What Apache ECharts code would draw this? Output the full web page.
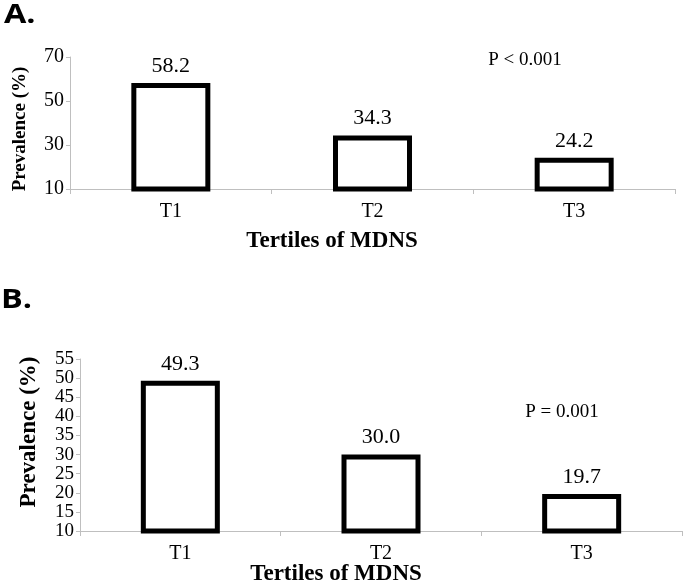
<!DOCTYPE html>
<html>
<head>
<meta charset="utf-8">
<script src="https://cdn.jsdelivr.net/npm/echarts@6/dist/echarts.min.js"></script>
<style>html,body{margin:0;padding:0;background:#fff}#c{width:685px;height:585px}</style>
</head>
<body>
<div id="c"></div>
<script>
const categories = ['T1', 'T2', 'T3'];
const valuesA = [58.2, 34.3, 24.2];
const valuesB = [49.3, 30.0, 19.7];
const yTicksA = [10, 30, 50, 70];
const yTicksB = [10, 15, 20, 25, 30, 35, 40, 45, 50, 55];
const pA = 'P < 0.001';
const pB = 'P = 0.001';
const xTitle = 'Tertiles of MDNS';
const yTitle = 'Prevalence (%)';

const serif = '"Liberation Serif", "Times New Roman", serif';
const axisGray = '#bfbfbf';

function xAxisCfg(gi) {
  return {
    type: 'category', gridIndex: gi, data: categories,
    axisLine: { lineStyle: { color: axisGray, width: 1 } },
    axisTick: { show: true, alignWithLabel: false, length: 5, lineStyle: { color: axisGray } },
    axisLabel: { color: '#000', fontFamily: serif, fontSize: 20, margin: 13 }
  };
}
// parity: null = show all tick labels; 0/1 = show only ticks whose index has that parity
function yAxisCfg(gi, ticks, fs, parity, showLine) {
  return {
    type: 'value', gridIndex: gi, position: 'left', offset: 0,
    min: ticks[0], max: ticks[ticks.length - 1], interval: ticks[1] - ticks[0],
    splitLine: { show: false },
    axisLine: { show: showLine, onZero: false, lineStyle: { color: axisGray, width: 1 } },
    axisTick: { show: showLine, length: 4, lineStyle: { color: axisGray } },
    axisLabel: {
      color: '#000', fontFamily: serif, fontSize: fs, margin: 6,
      showMinLabel: true, showMaxLabel: true, hideOverlap: false,
      formatter: v => {
        if (parity === null) return String(v);
        const i = ticks.indexOf(v);
        return (i % 2 === parity) ? String(v) : '';
      }
    }
  };
}
function barSeries(xi, yi, vals) {
  return {
    type: 'bar', xAxisIndex: xi, yAxisIndex: yi, data: vals,
    barWidth: 79,
    itemStyle: { color: '#fff', borderColor: '#000', borderWidth: 5 },
    label: {
      show: true, position: 'top', distance: 6, color: '#000',
      fontFamily: serif, fontSize: 22,
      formatter: p => p.value.toFixed(1)
    },
    silent: true
  };
}

const chart = echarts.init(document.getElementById('c'), null, { renderer: 'canvas' });
chart.setOption({
  animation: false,
  backgroundColor: '#fff',
  grid: [
    { left: 70, top: 57, width: 605, height: 132 },
    { left: 80, top: 359, width: 602, height: 172 }
  ],
  xAxis: [xAxisCfg(0), xAxisCfg(1)],
  yAxis: [
    yAxisCfg(0, yTicksA, 20, null, true),
    yAxisCfg(1, yTicksB, 19, 0, true),
    yAxisCfg(1, yTicksB, 19, 1, false)
  ],
  series: [barSeries(0, 0, valuesA), barSeries(1, 1, valuesB)],
  graphic: [
    { type: 'text', x: 4, y: 2, scaleX: 1.2, style: { text: 'A.', font: 'bold 27px "Open Sans", "Noto Sans", sans-serif', fill: '#000' } },
    { type: 'text', x: 1, y: 287, scaleX: 1.2, style: { text: 'B.', font: 'bold 27px "Open Sans", "Noto Sans", sans-serif', fill: '#000' } },
    { type: 'text', x: 525, y: 60, style: { text: pA, font: '19px ' + serif, fill: '#000', align: 'center', verticalAlign: 'middle' } },
    { type: 'text', x: 562, y: 412, style: { text: pB, font: '19px ' + serif, fill: '#000', align: 'center', verticalAlign: 'middle' } },
    { type: 'text', x: 332, y: 241, style: { text: xTitle, font: 'bold 23px ' + serif, fill: '#000', align: 'center', verticalAlign: 'middle' } },
    { type: 'text', x: 336, y: 574, style: { text: xTitle, font: 'bold 23px ' + serif, fill: '#000', align: 'center', verticalAlign: 'middle' } },
    { type: 'text', x: 20, y: 129, rotation: Math.PI / 2, style: { text: yTitle, font: 'bold 19px ' + serif, fill: '#000', align: 'center', verticalAlign: 'middle' } },
    { type: 'text', x: 29, y: 432, rotation: Math.PI / 2, style: { text: yTitle, font: 'bold 23px ' + serif, fill: '#000', align: 'center', verticalAlign: 'middle' } }
  ]
});
</script>
</body>
</html>
